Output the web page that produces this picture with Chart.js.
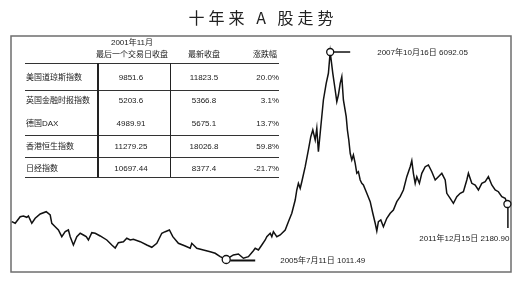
<!DOCTYPE html>
<html>
<head>
<meta charset="utf-8">
<script src="https://cdn.jsdelivr.net/npm/chart.js@4/dist/chart.umd.min.js"></script>
<style>
  body { margin: 0; background: #fff; }
  #marco { position: relative; width: 520px; height: 281px; overflow: hidden; font-family: "Liberation Sans", "Noto Sans CJK SC", sans-serif; color: #1a1a1a; }
  #grafico { position: absolute; left: 0; top: 0; }
  #titulo { position: absolute; left: 0; top: 7px; width: 520px; box-sizing: border-box; padding-left: 6px; text-align: center; font: 16px/20px "Noto Sans CJK SC"; letter-spacing: 4px; color: #222; }
  .t { position: absolute; font-size: 8px; line-height: 10px; white-space: nowrap; }
  .h { position: absolute; height: 1px; background: #333; }
  .v { position: absolute; width: 1.8px; background: #222; }
</style>
</head>
<body>
<div id="marco">
  <canvas id="grafico" width="520" height="281"></canvas>
  <div id="titulo">十年来 A 股走势</div>
  <div id="tabla"></div>
</div>
<script>
// tabla de índices mundiales
const indices      = ["美国道琼斯指数", "英国金融时报指数", "德国DAX", "香港恒生指数", "日经指数"];
const cierre2001   = ["9851.6", "5203.6", "4989.91", "11279.25", "10697.44"];
const cierreActual = ["11823.5", "5366.8", "5675.1", "18026.8", "8377.4"];
const variacion    = ["20.0%", "3.1%", "13.7%", "59.8%", "-21.7%"];
const encabezados  = ["2001年11月", "最后一个交易日收盘", "最新收盘", "涨跌幅"];

// serie del índice (día de negociación, nivel)
const dias = [0,17,42,58,75,83,100,117,142,172,192,200,217,233,250,267,283,292,308,325,342,358,372,383,400,417,442,475,500,517,533,558,575,592,608,642,675,700,725,750,767,788,805,833,867,892,900,925,958,992,1017,1042,1072,1108,1133,1158,1183,1208,1217,1233,1250,1267,1275,1292,1300,1308,1325,1342,1367,1383,1400,1417,1425,1433,1442,1450,1467,1483,1495,1505,1517,1525,1533,1545,1558,1572,1583,1592,1605,1617,1625,1633,1642,1650,1658,1672,1678,1685,1692,1700,1708,1717,1725,1733,1742,1750,1758,1775,1792,1805,1817,1825,1833,1845,1858,1875,1892,1908,1925,1942,1958,1975,1992,2000,2008,2017,2025,2038,2050,2067,2083,2100,2117,2133,2150,2167,2175,2192,2208,2225,2242,2258,2275,2283,2300,2317,2333,2350,2367,2383,2400,2417,2433,2450,2467,2478];
const valores = [1937,1898,2059,2077,2045,2077,1898,2020,2125,2182,2101,1898,1815,1734,1570,1692,1734,1570,1367,1570,1653,1611,1570,1489,1668,1653,1587,1489,1367,1293,1423,1447,1531,1489,1506,1447,1367,1310,1408,1653,1692,1734,1570,1408,1342,1286,1408,1286,1244,1202,1163,1080,1011.49,1122,1146,1041,1080,1227,1286,1244,1367,1489,1570,1653,1570,1692,1570,1611,1734,1937,2143,2468,2713,2877,2755,2916,3284,3693,4018,4182,3937,4224,3651,4263,4917,5326,5571,6092.05,5571,5162,4875,5039,5326,5487,4917,4508,4182,3937,3612,3448,3570,3367,3122,3161,2958,2877,2836,2632,2427,2143,1898,1709,1937,1979,1815,2020,2143,2223,2427,2549,2713,3039,3284,3430,3122,2877,3039,2877,3122,3284,3325,3161,2958,3039,3122,2958,2632,2510,2387,2549,2632,2671,2958,3122,2877,2836,2713,2877,2916,3039,2836,2713,2671,2549,2510,2370];

const notas = ["2007年10月16日 6092.05", "2005年7月11日 1011.49", "2011年12月15日 2180.90"];

function armarTabla() {
  const cont = document.getElementById("tabla");
  const texto = (s, x, y, alinear) => {
    const d = document.createElement("div");
    d.className = "t";
    d.textContent = s;
    d.style.left = x + "px";
    d.style.top = (y - 5) + "px";
    if (alinear === "centro") d.style.transform = "translateX(-50%)";
    if (alinear === "derecha") d.style.transform = "translateX(-100%)";
    cont.appendChild(d);
  };
  const linea = (clase, x, y, largo) => {
    const d = document.createElement("div");
    d.className = clase;
    d.style.left = x + "px";
    d.style.top = y + "px";
    if (clase === "h") d.style.width = largo + "px";
    else d.style.height = largo + "px";
    cont.appendChild(d);
  };

  texto(encabezados[0], 132, 43, "centro");
  texto(encabezados[1], 132, 55, "centro");
  texto(encabezados[2], 204, 55, "centro");
  texto(encabezados[3], 277, 55, "derecha");

  const filasY = [78.3, 101, 124, 146.7, 168.5];
  indices.forEach((nombre, i) => {
    texto(nombre, 26, filasY[i]);
    texto(cierre2001[i], 131, filasY[i], "centro");
    texto(cierreActual[i], 204, filasY[i], "centro");
    texto(variacion[i], 279, filasY[i], "derecha");
  });

  [62.5, 89.5, 135, 157, 177].forEach(y => linea("h", 25, y, 254));
  [97, 169.5].forEach(x => linea("v", x, 63, 114));
}

const marcas = {
  id: "marcas",
  beforeDraw(chart) {
    const { ctx, chartArea: a } = chart;
    ctx.save();
    ctx.strokeStyle = "#6e6e6e";
    ctx.lineWidth = 1.5;
    ctx.strokeRect(a.left, a.top, a.right - a.left, a.bottom - a.top);
    ctx.restore();
  },
  afterDatasetsDraw(chart) {
    const { ctx } = chart;
    const pts = chart.getDatasetMeta(0).data;
    const iMax = valores.indexOf(Math.max(...valores));
    const iMin = valores.indexOf(Math.min(...valores));
    const iFin = valores.length - 1;

    const circulo = (p, r) => {
      ctx.beginPath();
      ctx.arc(p.x, p.y, r, 0, Math.PI * 2);
      ctx.fillStyle = "#fff";
      ctx.fill();
      ctx.lineWidth = 1.3;
      ctx.strokeStyle = "#111";
      ctx.stroke();
    };
    const trazo = (x1, y1, x2, y2, w) => {
      ctx.beginPath();
      ctx.moveTo(x1, y1);
      ctx.lineTo(x2, y2);
      ctx.lineWidth = w;
      ctx.strokeStyle = "#111";
      ctx.stroke();
    };

    ctx.save();
    ctx.font = '8px "Liberation Sans", "Noto Sans CJK SC"';
    ctx.textBaseline = "middle";

    const pico = pts[iMax];
    trazo(pico.x + 3.5, pico.y, pico.x + 20, pico.y, 1.5);
    circulo(pico, 3.5);
    ctx.fillStyle = "#222";
    ctx.textAlign = "left";
    ctx.fillText(notas[0], pico.x + 47, pico.y + 0.7);

    const piso = pts[iMin];
    trazo(piso.x + 4, piso.y + 1, piso.x + 29, piso.y + 1, 2);
    circulo(piso, 4);
    ctx.fillStyle = "#222";
    ctx.fillText(notas[1], piso.x + 54, piso.y + 1.5);

    const fin = pts[iFin];
    trazo(fin.x + 0.5, fin.y + 3.5, fin.x + 0.5, fin.y + 24, 1.5);
    circulo(fin, 3.5);
    ctx.fillStyle = "#222";
    ctx.textAlign = "right";
    ctx.fillText(notas[2], fin.x + 2, fin.y + 35);
    ctx.restore();
  }
};

armarTabla();

new Chart(document.getElementById("grafico"), {
  type: "line",
  data: {
    datasets: [{
      data: dias.map((d, i) => ({ x: d, y: valores[i] })),
      borderColor: "#111",
      borderWidth: 1.5,
      pointRadius: 0,
      tension: 0,
      fill: false
    }]
  },
  options: {
    responsive: false,
    animation: false,
    layout: { padding: { left: 11, right: 9, top: 36, bottom: 9 } },
    plugins: { legend: { display: false }, tooltip: { enabled: false } },
    scales: {
      x: { type: "linear", min: -4, max: 2496, display: false },
      y: { min: 705, max: 6484, display: false }
    }
  },
  plugins: [marcas]
});
</script>
</body>
</html>
